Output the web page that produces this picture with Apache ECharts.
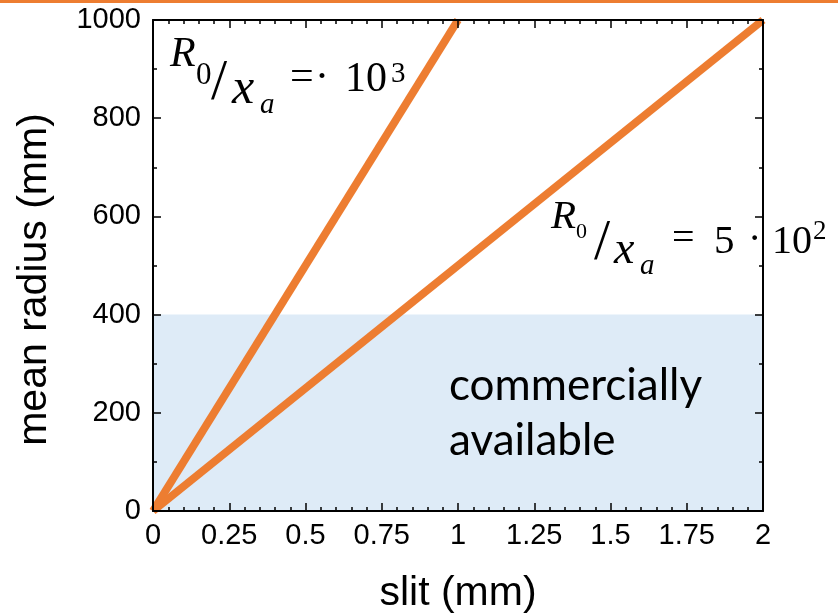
<!DOCTYPE html>
<html>
<head>
<meta charset="utf-8">
<script src="https://cdn.jsdelivr.net/npm/echarts@6/dist/echarts.min.js"></script>
<style>
  html, body { margin: 0; padding: 0; background: #ffffff; }
  #chart { width: 838px; height: 613px; }
</style>
</head>
<body>
<div id="chart"></div>
<script>
// ---- data ----
const xTickValues = [0, 0.25, 0.5, 0.75, 1, 1.25, 1.5, 1.75, 2];
const yTickValues = [0, 200, 400, 600, 800, 1000];
const lineRatio1000 = [[0, 0], [1, 1000]];   // R0/xa = 10^3
const lineRatio500 = [[0, 0], [2, 1000]];    // R0/xa = 5*10^2
const commercialRegion = [[0, 400], [2, 400]]; // commercially available up to 400 mm
const xAxisTitle = 'slit (mm)';
const yAxisTitle = 'mean radius (mm)';
const regionLabel = ['commercially', 'available'];

const orange = '#ED7D31';
const sans = '"Liberation Sans", Arial, sans-serif';
const serif = '"Liberation Serif", "DejaVu Serif", serif';

function mathText(parts) {
  return parts.map(p => ({
    type: 'text',
    x: p.x, y: p.y, z: 100,
    style: {
      text: p.t,
      fontSize: p.f,
      fontFamily: serif,
      fontStyle: p.i ? 'italic' : 'normal',
      fill: '#000',
      align: 'left',
      verticalAlign: 'middle'
    }
  }));
}

const ann1 = mathText([
  { t: 'R', x: 170, y: 55, f: 42, i: true },
  { t: '0', x: 196, y: 76, f: 31 },
  { t: '/', x: 211, y: 84, f: 58 },
  { t: 'x', x: 232, y: 90, f: 50, i: true },
  { t: 'a', x: 260, y: 105, f: 29, i: true },
  { t: '=', x: 290, y: 78, f: 42 },
  { t: '·', x: 315, y: 79, f: 42 },
  { t: '10', x: 345, y: 80, f: 42 },
  { t: '3', x: 391, y: 74, f: 29 }
]);
const ann2 = mathText([
  { t: 'R', x: 551, y: 217, f: 41, i: true },
  { t: '0', x: 576, y: 232, f: 22 },
  { t: '/', x: 594, y: 244, f: 58 },
  { t: 'x', x: 614, y: 251, f: 46, i: true },
  { t: 'a', x: 640, y: 266, f: 29, i: true },
  { t: '=', x: 672, y: 239, f: 40 },
  { t: '5', x: 714, y: 242, f: 41 },
  { t: '·', x: 748, y: 240, f: 40 },
  { t: '10', x: 772, y: 242, f: 40 },
  { t: '2', x: 813, y: 232, f: 27 }
]);

const chart = echarts.init(document.getElementById('chart'));

const tickStyle = { show: true, inside: true, length: 8, lineStyle: { color: '#000', width: 1.5 } };
const minorStyle = (n) => ({ show: true, splitNumber: n, length: 4, lineStyle: { color: '#000', width: 1.5 } });
const plainNum = (v) => String(v);

const option = {
  animation: false,
  backgroundColor: '#ffffff',
  grid: { left: 153, top: 20, right: 75, bottom: 102, containLabel: false, outerBoundsMode: 'none' },
  xAxis: [
    {
      type: 'value', position: 'bottom', min: 0, max: 2, interval: 0.25, z: 10,
      name: xAxisTitle, nameLocation: 'middle', nameGap: 62,
      nameTextStyle: { fontSize: 41, fontFamily: sans, color: '#000' },
      axisLine: { show: true, onZero: false, lineStyle: { color: '#000', width: 2 } },
      axisTick: tickStyle,
      minorTick: minorStyle(5),
      axisLabel: { fontSize: 29, fontFamily: sans, color: '#000', margin: 10, formatter: plainNum },
      splitLine: { show: false }, minorSplitLine: { show: false }
    },
    {
      type: 'value', position: 'top', min: 0, max: 2, interval: 0.25, z: 10,
      axisLine: { show: true, onZero: false, lineStyle: { color: '#000', width: 2 } },
      axisTick: tickStyle,
      minorTick: minorStyle(5),
      axisLabel: { show: false },
      splitLine: { show: false }
    }
  ],
  yAxis: [
    {
      type: 'value', position: 'left', min: 0, max: 1000, interval: 200, z: 10,
      name: yAxisTitle, nameLocation: 'middle', nameGap: 98, nameRotate: 90,
      nameTextStyle: { fontSize: 41, fontFamily: sans, color: '#000', padding: [0, 28, 0, 0] },
      axisLine: { show: true, onZero: false, lineStyle: { color: '#000', width: 2 } },
      axisTick: tickStyle,
      minorTick: minorStyle(2),
      axisLabel: { fontSize: 29, fontFamily: sans, color: '#000', margin: 12, formatter: plainNum },
      splitLine: { show: false }, minorSplitLine: { show: false }
    },
    {
      type: 'value', position: 'right', min: 0, max: 1000, interval: 200, z: 10,
      axisLine: { show: true, onZero: false, lineStyle: { color: '#000', width: 2 } },
      axisTick: tickStyle,
      minorTick: minorStyle(2),
      axisLabel: { show: false },
      splitLine: { show: false }
    }
  ],
  series: [
    {
      name: 'commercially available', type: 'line', data: commercialRegion,
      xAxisIndex: 0, yAxisIndex: 0, z: 1,
      symbol: 'none', lineStyle: { width: 0 },
      areaStyle: { color: '#DEEBF7', opacity: 1, origin: 'start' },
      silent: true
    },
    {
      name: 'R0/xa = 10^3', type: 'line', data: lineRatio1000,
      xAxisIndex: 0, yAxisIndex: 0, z: 3,
      symbol: 'none', lineStyle: { color: orange, width: 8 }
    },
    {
      name: 'R0/xa = 5*10^2', type: 'line', data: lineRatio500,
      xAxisIndex: 0, yAxisIndex: 0, z: 3,
      symbol: 'none', lineStyle: { color: orange, width: 8 }
    }
  ],
  graphic: [
    { type: 'rect', left: 0, top: 0, shape: { width: 838, height: 3 }, style: { fill: orange }, z: 100 },
    {
      type: 'text', x: 449, y: 386, z: 100,
      style: { text: regionLabel[0], fontSize: 44, fontFamily: 'Lato, "Open Sans", sans-serif', fill: '#000', align: 'left', verticalAlign: 'middle' }
    },
    {
      type: 'text', x: 449, y: 441, z: 100,
      style: { text: regionLabel[1], fontSize: 44, fontFamily: 'Lato, "Open Sans", sans-serif', fill: '#000', align: 'left', verticalAlign: 'middle' }
    }
  ].concat(ann1, ann2)
};

chart.setOption(option);
</script>
</body>
</html>
